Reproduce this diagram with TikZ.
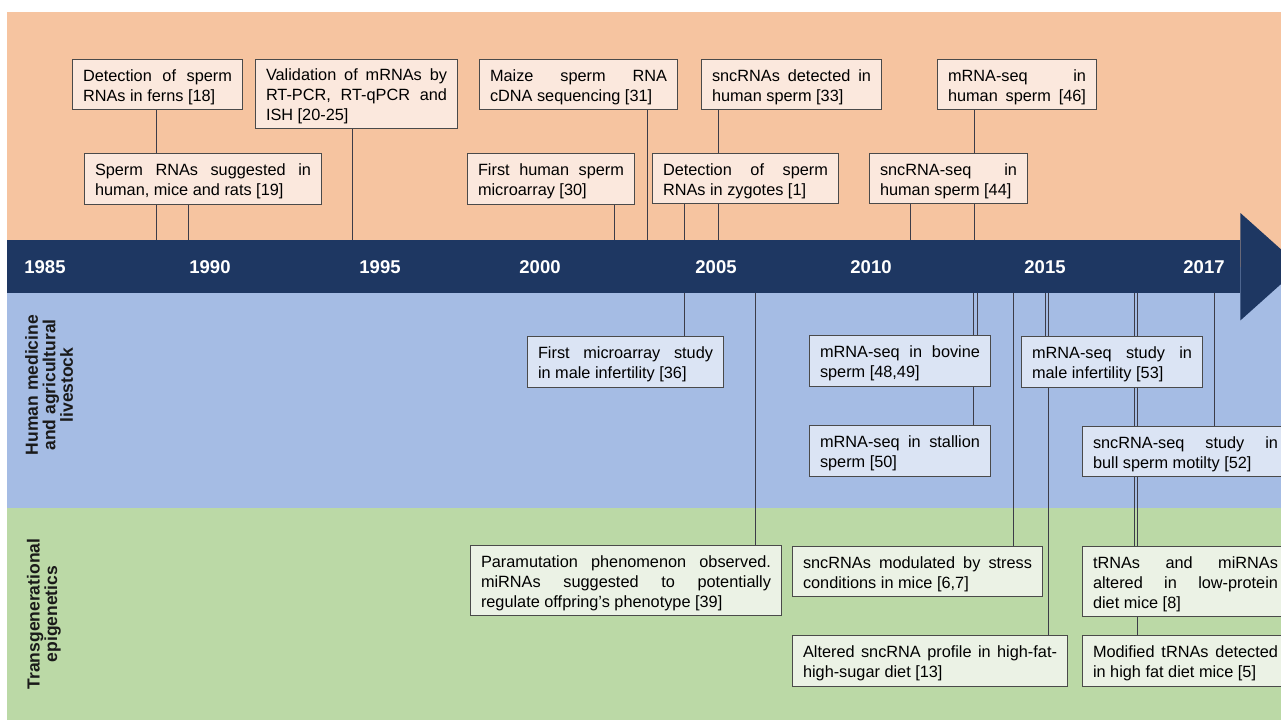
\documentclass[tikz,border=0pt]{standalone}
\usepackage{fontspec}
\setmainfont{Liberation Sans}
\usetikzlibrary{calc}
\pgfdeclarelayer{bg}\pgfdeclarelayer{lines}
\pgfsetlayers{bg,lines,main}
\definecolor{bandO}{HTML}{F6C4A0}
\definecolor{bandB}{HTML}{A5BCE4}
\definecolor{bandG}{HTML}{BBD9A6}
\definecolor{navy}{HTML}{1E3762}
\definecolor{fillO}{HTML}{FBE8DD}
\definecolor{fillB}{HTML}{DBE4F4}
\definecolor{fillG}{HTML}{EBF2E5}
\definecolor{boxdraw}{HTML}{4A4A4A}
\definecolor{linecol}{HTML}{3C3C48}
\definecolor{labcol}{HTML}{1A1A1A}
\newcommand\ms{\rule[-3.5pt]{0pt}{20pt}}
\newcommand\natsp{\spaceskip=0pt\xspaceskip=0pt\relax}
\newcommand\jline[1]{\ms\hbox to\hsize{\natsp #1}\\\relax}
\newcommand\fline[1]{\ms\hbox to\hsize{\natsp #1}}
\newcommand\lline[1]{\ms{\natsp #1}}
\newcommand\boxfont{\fontsize{16.3pt}{20pt}\selectfont}
\newcommand\bx[7]{%
  \pgfmathsetmacro\bw{#5-#3}\pgfmathsetmacro\tw{#5-#3-21}\pgfmathsetmacro\bh{#6-#4}%
  \node[#1, minimum width=\bw pt, text width=\tw pt, minimum height=\bh pt] (#2) at (#3,#4) {#7};}
\newcommand\cn[3]{\coordinate (c#3) at (#3,0); \draw[connline] (#1 -| c#3) -- (#2 -| c#3);}
\tikzset{
  tlbox/.style={draw=boxdraw, line width=1pt, inner xsep=10.5pt, inner ysep=0pt,
    align=left, font=\boxfont, anchor=north west},
  obox/.style={tlbox, fill=fillO},
  bbox/.style={tlbox, fill=fillB},
  gbox/.style={tlbox, fill=fillG},
  connline/.style={draw=linecol, line width=0.9pt},
  year/.style={text=white, font=\fontsize{18.5pt}{20pt}\selectfont\bfseries, inner sep=0pt},
  sidelab/.style={text=labcol, font=\fontsize{17.5pt}{17.5pt}\selectfont\bfseries,
    rotate=90, align=center, inner sep=0pt}
}
\begin{document}
\begin{tikzpicture}[x=1pt,y=-1pt]
\useasboundingbox (0,0) rectangle (1281,720);
\begin{pgfonlayer}{bg}
  \fill[white] (0,0) rectangle (1281,720);
  \fill[bandO] (7,12) rectangle (1281,267);
  \fill[bandB] (7,267) rectangle (1281,508);
  \fill[bandG] (7,508) rectangle (1281,720);
\end{pgfonlayer}
% timeline bar
\node[fill=navy, minimum width=1233pt, minimum height=53pt, inner sep=0pt, anchor=north west] (bar) at (7,240) {};
\fill[navy] ([yshift=27pt]bar.north east) -- ([xshift=60pt]bar.east) -- ([yshift=-27pt]bar.south east) -- cycle;
\node[year] (y1985) at (45,267) {1985};
\node[year] (y1990) at (210,267) {1990};
\node[year] (y1995) at (380,267) {1995};
\node[year] (y2000) at (540,267) {2000};
\node[year] (y2005) at (716,267) {2005};
\node[year] (y2010) at (871,267) {2010};
\node[year] (y2015) at (1045,267) {2015};
\node[year] (y2017) at (1204,267) {2017};
% side labels
\node[sidelab] (labhum) at (49,385) {Human medicine\\and agricultural\\livestock};
\node[sidelab] (labtra) at (44,614) {Transgenerational\\epigenetics};
% top boxes
\bx{obox}{b18}{72}{59}{242}{109}{\jline{Detection of sperm}\lline{RNAs in ferns [18]}}
\bx{obox}{b2025}{255}{59}{457}{128}{\jline{Validation of mRNAs by}\jline{RT-PCR, RT-qPCR and}\lline{ISH [20-25]}}
\bx{obox}{b19}{84}{153}{321}{204}{\jline{Sperm RNAs suggested in}\lline{human, mice and rats [19]}}
\bx{obox}{b31}{479}{59}{677}{109}{\jline{Maize sperm RNA}\lline{cDNA sequencing [31]}}
\bx{obox}{b33}{701}{59}{881}{109}{\jline{sncRNAs detected in}\lline{human sperm [33]}}
\bx{obox}{b30}{467}{153}{634}{204}{\jline{First human sperm}\lline{microarray [30]}}
\bx{obox}{b1}{652}{153}{838}{203}{\jline{Detection of sperm}\lline{RNAs in zygotes [1]}}
\bx{obox}{b46}{937}{59}{1096}{109}{\jline{mRNA-seq in}\fline{human sperm [46]}}
\bx{obox}{b44}{869}{153}{1027}{203}{\jline{sncRNA-seq in}\lline{human sperm [44]}}
% blue band boxes
\bx{bbox}{b36}{527}{336}{723}{387}{\jline{First microarray study}\lline{in male infertility [36]}}
\bx{bbox}{b48}{809}{335}{990}{386}{\jline{mRNA-seq in bovine}\lline{sperm [48,49]}}
\bx{bbox}{b50}{809}{425}{990}{476}{\jline{mRNA-seq in stallion}\lline{sperm [50]}}
\bx{bbox}{b53}{1021}{336}{1202}{387}{\jline{mRNA-seq study in}\lline{male infertility [53]}}
\bx{bbox}{b52}{1082}{426}{1288}{476}{\jline{sncRNA-seq study in}\lline{bull sperm motilty [52]}}
% green band boxes
\bx{gbox}{b39}{470}{545}{781}{615}{\jline{Paramutation phenomenon observed.}\jline{miRNAs suggested to potentially}\lline{regulate offpring's phenotype [39]}}
\bx{gbox}{b67}{792}{546}{1042}{596}{\jline{sncRNAs modulated by stress}\lline{conditions in mice [6,7]}}
\bx{gbox}{b13}{792}{635}{1067}{686}{\jline{Altered sncRNA profile in high-fat-}\lline{high-sugar diet [13]}}
\bx{gbox}{b8}{1082}{546}{1288}{616}{\jline{tRNAs and miRNAs}\jline{altered in low-protein}\lline{diet mice [8]}}
\bx{gbox}{b5}{1082}{635}{1288}{686}{\jline{Modified tRNAs detected}\lline{in high fat diet mice [5]}}
% connectors
\begin{pgfonlayer}{lines}
  \cn{b18.south}{bar.north}{156}
  \cn{b19.south}{bar.north}{188}
  \cn{b2025.south}{bar.north}{352}
  \cn{b30.south}{bar.north}{614}
  \cn{b31.south}{bar.north}{647}
  \cn{b1.south}{bar.north}{684}
  \cn{b33.south}{bar.north}{718}
  \cn{b44.south}{bar.north}{910}
  \cn{b46.south}{bar.north}{974}
  \cn{bar.south}{b36.north}{684}
  \cn{bar.south}{b39.north}{755}
  \cn{bar.south}{b48.north}{977}
  \cn{bar.south}{b50.north}{973}
  \cn{bar.south}{b67.north}{1013}
  \cn{bar.south}{b53.north}{1045}
  \cn{bar.south}{b13.north}{1048}
  \cn{bar.south}{b8.north}{1134}
  \cn{bar.south}{b5.north}{1137}
  \cn{bar.south}{b52.north}{1214}
\end{pgfonlayer}
\end{tikzpicture}
\end{document}
